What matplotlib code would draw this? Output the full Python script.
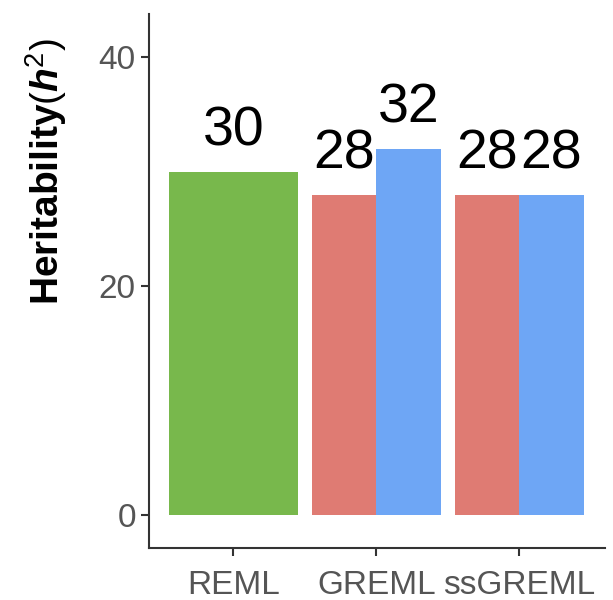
import numpy as np
import matplotlib.pyplot as plt

plt.rcParams['font.family'] = ['Liberation Sans', 'DejaVu Sans']
plt.rcParams['mathtext.fontset'] = 'custom'
plt.rcParams['mathtext.rm'] = 'Liberation Sans'
plt.rcParams['mathtext.it'] = 'Liberation Sans:italic'
plt.rcParams['mathtext.bf'] = 'Liberation Sans:bold'
plt.rcParams['mathtext.bfit'] = 'Liberation Sans:bold:italic'

methods = ["REML", "GREML", "ssGREML"]
reml_value = [30]
greml_values = [28, 32]
ssgreml_values = [28, 28]

green = "#78b84c"
red = "#df7b73"
blue = "#6ea6f5"

fig = plt.figure(figsize=(6.13, 6.0), dpi=100)
ax = fig.add_axes([0.243, 0.087, 0.744, 0.89])

width = 0.9
half = width / 2
bars = []
bars += ax.bar([1], reml_value, width=width, color=green)
bars += ax.bar([2 - half / 2, 2 + half / 2], greml_values, width=half, color=[red, blue])
bars += ax.bar([3 - half / 2, 3 + half / 2], ssgreml_values, width=half, color=[red, blue])

for b in bars:
    h = b.get_height()
    ax.annotate(f"{h:g}", (b.get_x() + b.get_width() / 2, h), xytext=(0, 10),
                textcoords="offset points", ha="center", va="bottom",
                fontsize=40, color="black")

ax.set_xlim(0.41, 3.6)
ax.set_ylim(-2.88, 43.8)
ax.set_yticks([0, 20, 40])
ax.set_xticks([1, 2, 3])
ax.set_xticklabels(methods)

for s in ["top", "right"]:
    ax.spines[s].set_visible(False)
for s in ["left", "bottom"]:
    ax.spines[s].set_color("#333333")
    ax.spines[s].set_linewidth(1.5)
ax.tick_params(axis="both", colors="#333333", labelcolor="#555555", labelsize=24,
               length=6, width=1.5)
ax.tick_params(axis="x", pad=10)

ax.set_ylabel(r"Heritability$(\mathbfit{h}^{2})$", fontsize=28, fontweight="bold")
ax.yaxis.set_label_coords(-0.175, 0.705)

plt.savefig("out.png", dpi=100)
